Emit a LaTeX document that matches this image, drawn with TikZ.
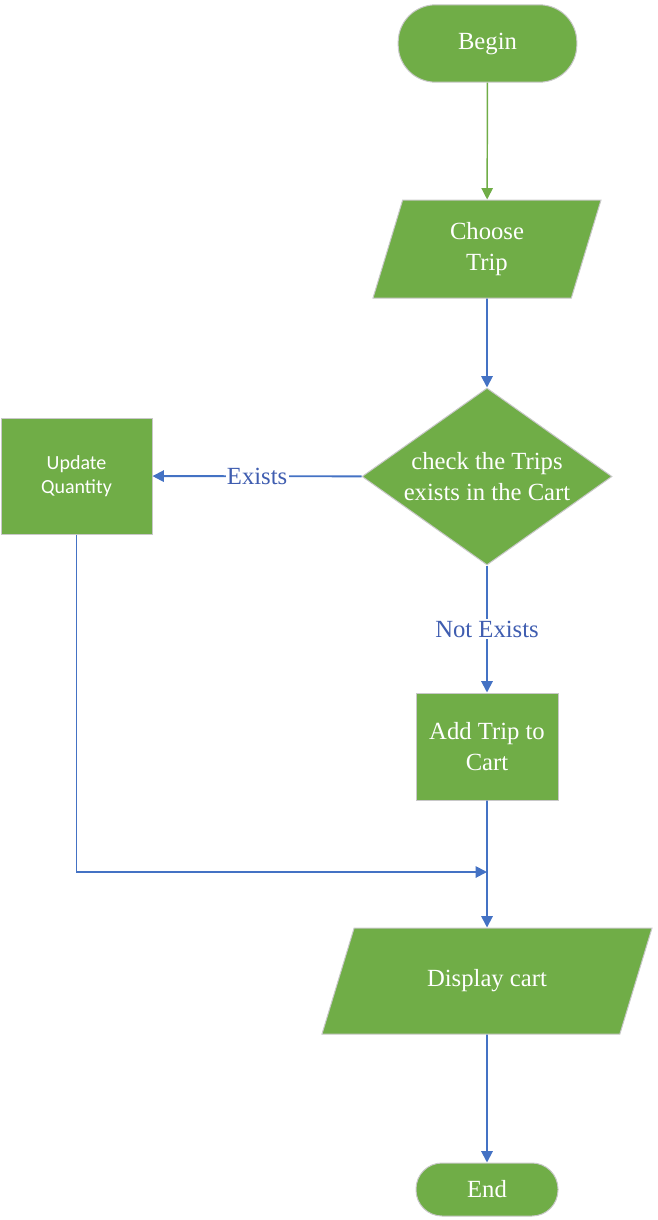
\documentclass[tikz,border=0pt]{standalone}
\usepackage{fontspec}
\setmainfont{Liberation Serif}
\newfontfamily\calibrifont{Carlito}
\usepackage{tikz}
\usetikzlibrary{positioning, arrows.meta, calc, shapes.geometric}
\definecolor{boxgreen}{HTML}{70AD47}
\definecolor{flowblue}{HTML}{4472C4}
\definecolor{lblblue}{HTML}{3F5DB0}
\definecolor{rimgray}{HTML}{C8C8C8}

\begin{document}
\begin{tikzpicture}[x=0.75pt,y=-0.75pt]
		\tikzstyle{flowshape} = [draw=rimgray, line width=0.75pt, fill=boxgreen, text=white, align=center, font=\fontsize{18.5}{23}\selectfont]
		\tikzstyle{terminal} = [flowshape, rounded corners=28pt]
		\tikzstyle{process} = [flowshape, rectangle]
		\tikzstyle{io} = [flowshape, trapezium, trapezium left angle=73, trapezium right angle=107, trapezium stretches body, inner xsep=0]
		\tikzstyle{decision} = [flowshape, diamond, aspect=1.41, inner sep=0]
		\tikzstyle{flowarrow} = [-{Triangle[length=8.5pt,width=8.5pt]}, line width=1.4pt, flowblue]
		\tikzstyle{lbl} = [fill=white, text=lblblue, inner sep=1pt, font=\fontsize{18.5}{23}\selectfont]
		\useasboundingbox (0,0) rectangle (657,1220);
		\node [terminal, minimum width=134pt, minimum height=58pt] (begin) at (487.5,43.5) {Begin};
		\node [io, inner ysep=16.5pt, minimum width=171pt, minimum height=73.5pt] (choose) at (487,249) {Choose\\Trip};
		\node [decision, minimum width=187.5pt, minimum height=132.75pt] (check) at (487,476.5) {check the Trips\\exists in the Cart};
		\node [process, minimum width=113.25pt, minimum height=87pt, font=\calibrifont\fontsize{15}{18}\selectfont] (upd) at (76.5,476) {Update\\Quantity};
		\node [process, minimum width=106.5pt, minimum height=80.25pt] (add) at (487,746.5) {Add Trip to\\Cart};
		\node [io, inner ysep=31pt, minimum width=247.5pt, minimum height=79.5pt] (disp) at (487,981) {Display cart};
		\node [terminal, rounded corners=19.5pt, minimum width=106.5pt, minimum height=39.75pt] (end) at (487,1189.5) {End};
		\coordinate (join) at (487,872);
		\draw [flowarrow, boxgreen, line width=1.1pt] (begin) edge (choose);
		\draw [flowarrow] (choose) edge (check);
		\draw [flowarrow] (check) edge node[lbl] {Exists} (upd);
		\draw [flowarrow] (check) edge node[lbl] {Not Exists} (add);
		\draw [flowarrow] (add) edge (disp);
		\draw [flowarrow] (upd.south) |- (join);
		\draw [flowarrow] (disp) edge (end);
\end{tikzpicture}
\end{document}
